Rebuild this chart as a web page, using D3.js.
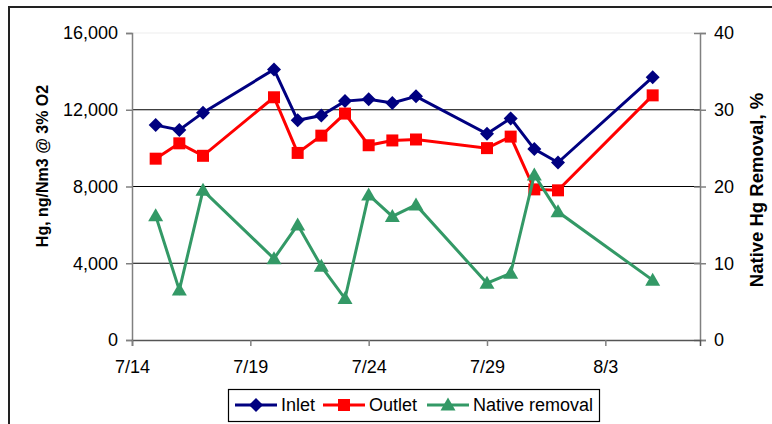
<!DOCTYPE html>
<meta charset="utf-8">
<head>
  <script src="https://d3js.org/d3.v7.min.js"></script>
  <style>
    body { margin: 0; background: #fff; }
    text { font-family: "Liberation Sans", Arial, sans-serif; fill: #000; }
  </style>
</head>
<body>
<div id="display"></div>
<script>

// sampling dates (month/day)
var dates = ["7/15","7/16","7/17","7/20","7/21","7/22","7/23","7/24","7/25","7/26","7/29","7/30","7/31","8/1","8/5"];
// Hg, ng/Nm3 @ 3% O2
var inlet  = [11200,10950,11850,14100,11450,11700,12450,12550,12350,12700,10750,11550,9950,9250,13700];
var outlet = [9450,10250,9600,12650,9750,10650,11800,10150,10400,10450,10000,10600,7850,7800,12750];
// native Hg removal, %
var removal = [16.2,6.5,19.5,10.6,15.0,9.6,5.4,18.9,16.1,17.6,7.4,8.7,21.5,16.7,7.8];

var xTicks = ["7/14","7/19","7/24","7/29","8/3"];
var xRange = ["7/14","8/7"];
var leftTicks = [0,4000,8000,12000,16000];
var rightTicks = [0,10,20,30,40];

var parse = function(s) {
  var p = s.split("/");
  return new Date(Date.UTC(2004, +p[0] - 1, +p[1]));
};

var width = 772, height = 424;
var margin = {top: 33, right: 72, bottom: 84, left: 132};

var svg = d3.select("#display")
  .append("svg")
    .attr("width", width)
    .attr("height", height);

// outer chart frame
svg.append("rect")
  .attr("x", 9).attr("y", 7)
  .attr("width", 900).attr("height", 600)
  .attr("fill", "none")
  .attr("stroke", "#222")
  .attr("stroke-width", 2);

var x = d3.scaleUtc()
  .domain(xRange.map(parse))
  .range([margin.left, width - margin.right]);

var y = d3.scaleLinear()
  .domain([0, 16000])
  .range([height - margin.bottom, margin.top]);

var y2 = d3.scaleLinear()
  .domain([0, 40])
  .range([height - margin.bottom, margin.top]);

// gridlines
svg.append("g")
  .selectAll("line")
  .data(leftTicks.slice(1))
  .enter().append("line")
    .attr("x1", margin.left)
    .attr("x2", width - margin.right)
    .attr("y1", function(d) { return y(d); })
    .attr("y2", function(d) { return y(d); })
    .attr("stroke", function(d) { return d === 16000 ? "#eee" : "#000"; })
    .attr("stroke-width", 1.2);

// left axis
var yAxis = svg.append("g")
  .attr("transform", "translate(" + margin.left + ",0)")
  .call(d3.axisLeft(y).tickValues(leftTicks).tickFormat(d3.format(",")).tickSize(6).tickPadding(8));

// right axis
var yAxis2 = svg.append("g")
  .attr("transform", "translate(" + (width - margin.right) + ",0)")
  .call(d3.axisRight(y2).tickValues(rightTicks).tickSize(6).tickPadding(8));
yAxis2.selectAll(".tick line").attr("x1", -6);

// bottom axis
var xAxis = svg.append("g")
  .attr("transform", "translate(0," + (height - margin.bottom) + ")")
  .call(d3.axisBottom(x).tickValues(xTicks.map(parse)).tickFormat(d3.utcFormat("%-m/%-d")).tickSize(6).tickPadding(14));

[yAxis, yAxis2, xAxis].forEach(function(a) {
  a.select(".domain").attr("stroke", "#808080").attr("stroke-width", 1.5);
  a.selectAll(".tick line").attr("stroke", "#808080").attr("stroke-width", 1.5);
  a.selectAll("text").style("font-size", "18px").attr("fill", "#000");
});
xAxis.select(".domain").attr("stroke", "#555");

// axis titles
svg.append("text")
  .attr("transform", "translate(48," + 166 + ") rotate(-90)")
  .attr("text-anchor", "middle")
  .style("font-size", "16px")
  .style("font-weight", "bold")
  .text("Hg, ng/Nm3 @ 3% O2");

svg.append("text")
  .attr("transform", "translate(763," + 190 + ") rotate(-90)")
  .attr("text-anchor", "middle")
  .style("font-size", "18.5px")
  .style("font-weight", "bold")
  .text("Native Hg Removal, %");

// marker shapes
function marker(shape, r) {
  if (shape === "diamond") return "M0," + (-r) + "L" + r + ",0L0," + r + "L" + (-r) + ",0Z";
  if (shape === "square") return "M" + (-r) + "," + (-r) + "H" + r + "V" + r + "H" + (-r) + "Z";
  return "M0," + (-r - 1) + "L" + (r + 1) + "," + (r - 1) + "L" + (-r - 1) + "," + (r - 1) + "Z";
}

var series = [
  {name: "Inlet", values: inlet, scale: y, color: "#000080", shape: "diamond", r: 7},
  {name: "Outlet", values: outlet, scale: y, color: "#ff0000", shape: "square", r: 6},
  {name: "Native removal", values: removal, scale: y2, color: "#339966", shape: "triangle", r: 6.5}
];

series.forEach(function(s) {
  var pts = dates.map(function(d, i) { return [x(parse(d)), s.scale(s.values[i])]; });
  svg.append("path")
    .attr("d", d3.line()(pts))
    .attr("fill", "none")
    .attr("stroke", s.color)
    .attr("stroke-width", 3);
  svg.append("g")
    .selectAll("path")
    .data(pts)
    .enter().append("path")
      .attr("transform", function(p) { return "translate(" + p[0] + "," + p[1] + ")"; })
      .attr("d", marker(s.shape, s.r))
      .attr("fill", s.color);
});

// legend
var legend = svg.append("g");
legend.append("rect")
  .attr("x", 228.5).attr("y", 389.5)
  .attr("width", 371).attr("height", 32)
  .attr("fill", "#fff")
  .attr("stroke", "#000")
  .attr("stroke-width", 1.2);

var legendX = [235, 323, 427];
series.forEach(function(s, i) {
  var lx = legendX[i];
  legend.append("line")
    .attr("x1", lx).attr("x2", lx + 42)
    .attr("y1", 405).attr("y2", 405)
    .attr("stroke", s.color).attr("stroke-width", 3);
  legend.append("path")
    .attr("transform", "translate(" + (lx + 21) + ",405)")
    .attr("d", marker(s.shape, s.r))
    .attr("fill", s.color);
  legend.append("text")
    .attr("x", lx + 46).attr("y", 411)
    .style("font-size", "18px")
    .text(s.name);
});

</script>
</body>
